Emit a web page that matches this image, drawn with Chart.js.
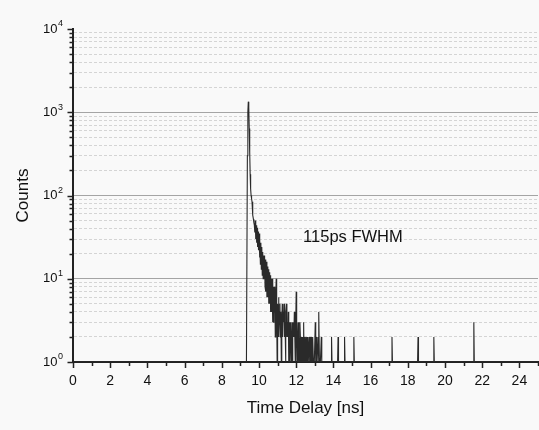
<!DOCTYPE html>
<html>
<head>
<meta charset="utf-8">
<script src="https://cdn.jsdelivr.net/npm/chart.js@4.4.1/dist/chart.umd.min.js"></script>
<style>
  html, body { margin: 0; padding: 0; background: #f9f9f9; }
</style>
</head>
<body>
<canvas id="chart" width="539" height="430"></canvas>
<script>
// ── Data ──
// counts per 0.025 ns bin, first bin at 9.300 ns
const binStart = 9.30;
const binWidth = 0.025;
const counts = [
  0, 0, 0, 300, 1000, 1340, 1150, 640, 330, 180,
  120, 100, 92, 84, 70, 58, 52, 47, 44, 36,
  50, 30, 44, 27, 41, 24, 37, 22, 35, 18,
  30, 15, 27, 13, 24, 11, 21, 10, 19, 10,
  19, 8, 17, 7, 16, 6, 14, 6, 13, 5,
  12, 5, 11, 4, 10, 4, 10, 3, 9, 3,
  8, 4, 8, 2, 6, 10, 4, 0, 5, 3,
  6, 2, 4, 5, 2, 4, 1, 3, 5, 2,
  4, 3, 5, 2, 3, 1, 4, 5, 2, 3,
  2, 4, 1, 3, 0, 3, 2, 0, 2, 3,
  1, 2, 3, 2, 4, 2, 1, 3, 7, 2,
  0, 2, 3, 1, 2, 0, 3, 2, 0, 2,
  1, 0, 2, 0, 3, 1, 2, 0, 0, 2,
  1, 2, 0, 2, 0, 0, 2, 1, 0, 2,
  0, 2, 0, 1, 2, 0, 0, 1, 0, 3,
  0, 2, 0, 1, 0, 2, 0, 4, 0, 0,
  1, 0, 2, 0
];
// single events further out in the tail
const tailTimes  = [13.90, 14.25, 14.60, 15.10, 17.15, 18.55, 19.40, 21.55];
const tailCounts = [2, 2, 2, 2, 2, 2, 2, 3];

const xMin = 0, xMax = 25;
const yDecades   = [1, 10, 100, 1000, 10000];
const yExponents = ['0', '1', '2', '3', '4'];
const yMinorSteps = [2, 3, 4, 5, 6, 7, 8, 9];

const noteText = '115ps FWHM';
const noteX = 12.37, noteY = 31;

const FONT = '"Liberation Sans", Arial, sans-serif';

// build points (empty bins sit on the log-axis floor)
const points = [{x: xMin, y: 0}];
counts.forEach((c, i) => points.push({x: +(binStart + i * binWidth).toFixed(3), y: c}));
tailTimes.forEach((t, i) => {
  points.push({x: +(t - binWidth).toFixed(3), y: 0}, {x: t, y: tailCounts[i]}, {x: +(t + binWidth).toFixed(3), y: 0});
});
points.push({x: xMax, y: 0});
const plotted = points.map(p => ({x: p.x, y: Math.max(p.y, 1)}));

// all log ticks: decades + 2..9 in between
const yTicks = [];
yDecades.forEach((d, i) => {
  yTicks.push(d);
  if (i < yDecades.length - 1) yMinorSteps.forEach(m => yTicks.push(d * m));
});
const isDecade = v => yDecades.includes(v);

// ── Plugin: background, tick marks, superscript labels, note ──
const decor = {
  id: 'decor',
  beforeDraw(chart) {
    const ctx = chart.ctx;
    ctx.save();
    ctx.fillStyle = '#f9f9f9';
    ctx.fillRect(0, 0, chart.width, chart.height);
    ctx.restore();
  },
  afterDraw(chart) {
    const {ctx, chartArea, scales: {x, y}} = chart;
    const ax = chartArea.left + 0.5, ay = chartArea.bottom;
    ctx.save();
    ctx.strokeStyle = '#222';
    ctx.lineWidth = 1.5;
    ctx.beginPath();
    yTicks.forEach(v => {
      const py = Math.round(y.getPixelForValue(v)) + 0.5;
      const len = isDecade(v) ? 6 : 4;
      ctx.moveTo(ax - len, py); ctx.lineTo(ax, py);
    });
    x.ticks.forEach(t => {
      const px = Math.round(x.getPixelForValue(t.value)) + 0.5;
      const len = t.value % 2 === 0 ? 6 : 4;
      ctx.moveTo(px, ay); ctx.lineTo(px, ay + len);
    });
    ctx.stroke();

    // y labels 10^n
    ctx.fillStyle = '#111';
    ctx.textBaseline = 'middle';
    yDecades.forEach((d, i) => {
      const py = y.getPixelForValue(d);
      ctx.font = '9px ' + FONT;
      ctx.textAlign = 'right';
      const ew = ctx.measureText(yExponents[i]).width;
      ctx.fillText(yExponents[i], ax - 10.5, py - 5);
      ctx.font = '13px ' + FONT;
      ctx.fillText('10', ax - 11 - ew, py);
    });

    // annotation
    ctx.font = '16.5px ' + FONT;
    ctx.textAlign = 'left';
    ctx.fillText(noteText, x.getPixelForValue(noteX), y.getPixelForValue(noteY));
    ctx.restore();
  }
};

new Chart(document.getElementById('chart'), {
  type: 'line',
  data: {
    datasets: [{
      data: plotted,
      borderColor: '#2a2a2a',
      borderWidth: 1.1,
      pointRadius: 0,
      tension: 0,
      fill: false
    }]
  },
  options: {
    responsive: false,
    animation: false,
    layout: {autoPadding: false, padding: {top: 29, right: 1, left: 0, bottom: 0}},
    plugins: {legend: {display: false}, tooltip: {enabled: false}},
    scales: {
      x: {
        type: 'linear', min: xMin, max: xMax,
        afterFit(s) { s.height = 68; s.paddingLeft = 0; s.paddingRight = 0; },
        ticks: {
          stepSize: 1, autoSkip: false, maxRotation: 0, padding: 11,
          color: '#111', font: {family: FONT, size: 14},
          callback: v => (v % 2 === 0 ? String(v) : '')
        },
        grid: {drawOnChartArea: false, drawTicks: false},
        border: {color: '#222', width: 2},
        title: {display: true, text: 'Time Delay [ns]', color: '#111',
                font: {family: FONT, size: 17}, padding: {top: 4, bottom: 11}}
      },
      y: {
        type: 'logarithmic', min: 1, max: 10000,
        afterFit(s) { s.width = 73; s.paddingTop = 0; s.paddingBottom = 0; },
        afterBuildTicks(s) { s.ticks = yTicks.map(v => ({value: v})); },
        ticks: {display: false, autoSkip: false},
        grid: {
          drawTicks: false,
          lineWidth: 1,
          color: c => {
            const v = c.tick && c.tick.value;
            if (v === 1 || v === 10000) return 'rgba(0,0,0,0)';
            return isDecade(v) ? '#a4a4a4' : '#d4d4d4';
          }
        },
        border: {
          color: '#222', width: 2,
          dash: c => (c.tick && !isDecade(c.tick.value) ? [3, 2] : [])
        },
        title: {display: true, text: 'Counts', color: '#111',
                font: {family: FONT, size: 17}, padding: {top: 13, bottom: 0}}
      }
    }
  },
  plugins: [decor]
});
</script>
</body>
</html>
